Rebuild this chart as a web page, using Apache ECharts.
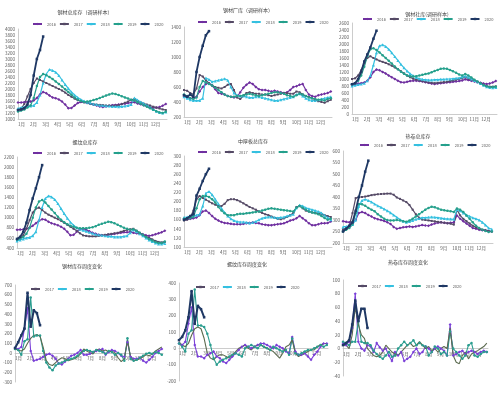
<!DOCTYPE html>
<html>
<head>
<meta charset="utf-8">
<script src="https://cdn.jsdelivr.net/npm/echarts@6/dist/echarts.min.js"></script>
<style>
    html, body { margin: 0; padding: 0; background: #fff; }
    #chart { width: 500px; height: 399px; }
</style>
</head>
<body>
<div id="chart"></div>
<script>
    // 周度数据，每年约48周
    var gcZk2016 = [1550,1550,1560,1570, 1580,1620,1700,1820, 1900,1860,1780,1720, 1690,1650,1580,1480, 1360,1370,1450,1530, 1570,1560,1540,1510, 1480,1450,1420,1400, 1420,1440,1460,1470, 1480,1500,1510,1530, 1550,1560,1520,1490, 1460,1430,1390,1370, 1380,1400,1440,1500];
    var gcZk2017 = [1300,1350,1500,1750, 2000,2200,2350,2300, 2250,2200,2150,2100, 2050,2000,1950,1880, 1800,1740,1680,1630, 1590,1560,1530,1500, 1490,1480,1470,1460, 1450,1450,1440,1450, 1460,1500,1540,1580, 1640,1660,1600,1550, 1510,1480,1450,1410, 1380,1350,1320,1300];
    var gcZk2018 = [1350,1380,1400,1420, 1430,1450,1550,1800, 2200,2500,2650,2620, 2560,2450,2300,2150, 2020,1900,1800,1720, 1650,1600,1560,1530, 1500,1480,1460,1450, 1440,1430,1420,1420, 1410,1420,1430,1450, 1480,1700,1630,1570, 1520,1460,1390,1320, 1260,1220,1200,1230];
    var gcZk2019 = [1250,1280,1320,1380, 1450,1700,2100,2400, 2500,2460,2400,2330, 2250,2170,2080,1990, 1900,1810,1720,1650, 1600,1570,1580,1600, 1630,1660,1700,1740, 1780,1820,1850,1830, 1800,1760,1720,1680, 1640,1620,1560,1510, 1460,1410,1360,1310, 1260,1220,1200,1240];
    var gcZk2020 = [1300,1320,1360,1480,1800,2450,3000,3300,3750];

    var gcCk2016 = [480,460,450,450, 470,540,600,640, 650,620,570,520, 510,500,480,470, 460,470,530,590, 630,660,640,600, 570,560,560,550, 540,550,540,530, 520,530,560,600, 610,630,640,560, 500,480,470,490, 500,510,520,540];
    var gcCk2017 = [560,550,520,500, 580,760,740,690, 650,620,600,590, 580,600,630,640, 560,460,440,480, 520,530,520,510, 510,500,500,490, 480,490,500,510, 520,520,510,510, 540,530,500,480, 470,450,430,410, 400,390,410,430];
    var gcCk2018 = [470,450,430,420, 420,420,450,720, 700,670,680,690, 700,710,690,600, 520,490,480,480, 470,460,460,470, 470,460,450,440, 430,420,420,430, 440,450,460,470, 500,510,480,450, 430,420,420,430, 440,450,460,470];
    var gcCk2019 = [500,480,450,440, 460,600,680,660, 640,620,590,560, 530,500,480,470, 470,480,480,490, 500,510,500,490, 480,490,500,510, 520,530,530,520, 510,490,480,470, 490,510,500,480, 460,450,440,430, 430,420,440,450];
    var gcCk2020 = [490,470,500,470,800,1000,1150,1290,1345];

    var gcSk2016 = [850,860,870,880, 900,950,1050,1200, 1270,1250,1200,1160, 1100,1050,1000,950, 910,900,920,940, 950,950,940,930, 910,890,870,860, 870,880,890,900, 910,920,930,940, 960,990,970,950, 930,910,890,870, 860,870,900,940];
    var gcSk2017 = [1000,1020,1100,1250, 1450,1600,1650,1600, 1560,1520,1490,1460, 1420,1380,1330,1280, 1220,1160,1100,1050, 1010,980,960,940, 920,900,890,880, 890,900,910,920, 940,960,980,1000, 1020,1050,1010,980, 950,920,880,840, 800,780,780,790];
    var gcSk2018 = [800,820,840,860, 880,950,1100,1400, 1750,1950,1980,1930, 1850,1750,1640,1530, 1420,1320,1230,1150, 1090,1040,1010,990, 980,970,970,980, 980,990,990,1000, 1000,1010,1020,1030, 1060,1080,1050,1000, 960,920,870,820, 780,760,750,760];
    var gcSk2019 = [850,880,950,1100, 1350,1650,1850,1880, 1830,1760,1680,1600, 1520,1440,1360,1280, 1210,1150,1100,1080, 1070,1080,1100,1120, 1140,1160,1190,1230, 1260,1290,1300,1290, 1260,1220,1180,1130, 1100,1140,1100,1040, 980,930,880,830, 790,770,770,780];
    var gcSk2020 = [850,880,1000,1200,1500,1700,1900,2150,2380];

    var lwZk2016 = [760,765,770,780, 800,840,890,940, 970,960,920,890, 870,850,820,780, 720,650,660,720, 770,780,760,730, 700,680,660,650, 650,660,670,680, 690,700,710,710, 720,700,690,680, 670,650,640,650, 670,690,710,740];
    var lwZk2017 = [560,590,650,780, 950,1100,1180,1200, 1150,1100,1060,1030, 1000,970,940,900, 860,820,780,740, 690,650,640,630, 630,630,640,650, 660,670,680,690, 700,720,740,760, 770,780,740,700, 660,630,600,570, 540,520,510,520];
    var lwZk2018 = [540,560,580,600, 610,640,720,950, 1200,1380,1430,1410, 1360,1280,1180,1080, 990,910,850,800, 770,750,730,710, 690,670,660,650, 640,630,630,620, 620,620,630,640, 700,760,720,680, 640,600,560,530, 500,480,480,490];
    var lwZk2019 = [570,590,620,680, 800,1000,1200,1320, 1350,1300,1230,1160, 1090,1020,960,910, 870,840,820,800, 790,790,790,800, 810,830,860,880, 900,920,910,890, 860,830,800,780, 760,770,740,700, 660,620,580,550, 520,500,500,530];
    var lwZk2020 = [580,620,720,900,1150,1380,1580,1800,2040];

    var zhbZk2016 = [160,161,162,163, 165,170,178,180, 175,168,162,158, 155,153,152,151, 150,150,150,151, 152,153,154,153, 152,150,149,148, 148,149,150,151, 152,155,158,160, 163,168,163,158, 152,148,148,150, 152,152,153,156];
    var zhbZk2017 = [158,160,165,180, 205,212,208,204, 200,196,193,190, 190,195,203,205, 205,203,200,196, 192,188,185,182, 178,175,172,170, 167,164,162,161, 163,166,170,175, 188,190,185,180, 178,176,175,174, 172,170,168,166];
    var zhbZk2018 = [165,166,168,169, 170,172,190,218, 222,215,205,195, 185,176,168,162, 158,156,155,155, 154,153,154,156, 160,163,165,166, 166,165,164,165, 166,168,170,172, 186,192,190,186, 184,182,180,178, 175,170,165,160];
    var zhbZk2019 = [162,163,164,166, 185,205,212,212, 210,205,198,188, 180,174,170,170, 170,172,173,173, 174,175,176,177, 178,180,182,184, 185,184,183,182, 181,180,179,178, 186,190,186,182, 178,176,174,172, 168,164,160,162];
    var zhbZk2020 = [160,163,168,172,213,228,245,260,272];

    var rjZk2016 = [295,292,290,287, 300,330,335,330, 322,315,308,303, 300,296,290,283, 270,262,265,268, 270,272,270,272, 275,278,276,275, 280,285,288,290, 288,286,288,290, 320,305,295,285, 275,265,262,258, 255,255,252,250];
    var rjZk2017 = [260,265,275,330, 395,400,400,402, 405,408,410,412, 413,414,415,415, 410,398,392,385, 378,365,345,325, 310,302,300,298, 296,294,292,290, 288,286,284,280, 345,320,305,295, 285,275,268,262, 258,255,252,250];
    var rjZk2018 = [270,272,275,280, 300,360,385,390, 385,378,370,362, 355,348,340,332, 322,312,302,295, 290,294,298,303, 307,310,310,312, 313,312,310,308, 306,305,304,303, 345,340,330,322, 316,310,305,300, 290,278,265,260];
    var rjZk2019 = [250,258,265,280, 330,370,368,362, 352,345,338,325, 315,305,300,298, 298,300,298,295, 292,298,305,315, 325,335,345,352, 358,355,350,345, 342,340,338,335, 350,345,335,320, 305,290,275,265, 258,252,248,250];
    var rjZk2020 = [250,262,275,290,340,400,450,510,558];

    var gcChg2017 = [50,40,60,250, 460,20,-80,-70, -60,-40,-20,-10, -30,-60,-110,-120, -90,-60,-30,-20, 0,30,-20,-20, -10,10,20,30, 40,-20,10,30, 20,0,-30,-40, 110,-40,-60,-60, -50,-80,-100,-70, -40,0,20,40];
    var gcChg2018 = [40,30,-20,120, 140,570,170,180, 180,20,-100,-150, -180,-130,-110,-100, -80,-70,-60,-50, -30,0,20,30, 20,10,30,20, 10,-10,20,10, -20,0,-20,-80, 150,-60,-80,-70, -50,-30,-10,0, -10,10,0,-20];
    var gcChg2019 = [40,30,20,40, 100,150,180,190, 170,60,-80,-120, -130,-100,-70,-50, -60,-80,-70,-60, -40,-10,40,20, 0,-10,30,40, 20,30,10,20, 0,-50,-90,-60, 130,-40,-80,-70, -60,-40,-20,-30, -10,20,40,60];
    var gcChg2020 = [50,110,180,250,620,270,440,410,285];

    var lwChg2017 = [30,20,40,150, 250,20,-50,-50, -60,-40,-30,-20, -50,-60,-80,-90, -70,-50,-30,-10, 10,20,10,0, 10,20,30,30, 20,10,0,20, 10,0,-20,-30, 70,-20,-40,-40, -30,-50,-70,-40, -20,10,30,30];
    var lwChg2018 = [30,10,-20,90, 110,360,140,140, 130,90,20,-60, -100,-80,-70,-60, -50,-40,-30,-40, -50,0,10,20, 10,0,20,10, 0,-10,10,0, -10,-20,-10,-40, 60,-30,-40,-30, -20,-10,-10,0, 10,20,10,20];
    var lwChg2019 = [40,20,10,30, 80,120,130,120, 60,-30,-60,-70, -50,-40,-40,-50, -60,-40,-20,0, 10,20,0,-10, 10,20,20,10, 0,-10,-20,-40, -60,-30,10,20, 50,-30,-50,-40, -30,-20,-10,-10, 10,20,30,30];
    var lwChg2020 = [50,70,110,190,350,150,260,240,190];

    var rjChg2017 = [8,5,10,30, 80,10,0,-3, 5,3,-5,8, 2,-3,0,-10, -18,-5,-10,-5, -18,-15,-12,-5, 0,-8,-5,3, 0,-5,0,3, 0,-3,-10,35, -10,-8,-5,-3, -8,-5,-3,-5, -8,-5,-3,-5];
    var rjChg2018 = [10,8,5,10, 10,40,10,8, 8,5,-3,-8, -12,-15,-10,-5, -12,-10,0,5, 10,5,8,12, 5,8,5,3, -10,-5,3,0, -8,-5,-10,25, 0,-5,-10,-15, -10,5,8,-10, -12,-8,-5,-5];
    var rjChg2019 = [5,5,0,20, 60,35,20,15, 0,-5,-10,-12, -10,-5,5,0, -5,-8,-10,-5, 0,5,8,3, 5,10,5,0, 3,-3,0,-5, 0,3,0,30, -10,-20,-22,-10, -5,-15,-8,-5, -3,0,3,8];
    var rjChg2020 = [5,8,12,35,70,40,58,58,30];

    var yearsA = ['2016', '2017', '2018', '2019', '2020'];
    var yearsB = ['2017', '2018', '2019', '2020'];

    var FONT = 'Noto Sans CJK SC';
    var STEP = 12.25 / 47;   // 一周约合的月数
    var XMAX = 12.35;

    var styleA = {
        '2016': {color: '#7030a0', symbol: 'diamond', size: 3, width: 1.2},
        '2017': {color: '#554a66', symbol: 'rect', size: 2, width: 1.2},
        '2018': {color: '#35c0e0', symbol: 'triangle', size: 3, width: 1.2},
        '2019': {color: '#25a08c', symbol: 'circle', size: 2.5, width: 1.2},
        '2020': {color: '#1f3864', symbol: 'rect', size: 2.5, width: 1.8}
    };
    var styleB = {
        '2017': {color: '#7a3fd8', symbol: 'diamond', size: 3, width: 1.1},
        '2018': {color: '#2a9d8f', symbol: 'circle', size: 2.5, width: 1.1},
        '2019': {color: '#5c6b50', symbol: 'none', size: 0, width: 1.1},
        '2020': {color: '#1f3864', symbol: 'rect', size: 2.5, width: 2}
    };

    var panels = [
        {title: '钢材总库存（调研样本）', t: [85, 10], lg: [32, 22], grid: [18, 29, 149, 90], y: [1000, 4000, 200],
            years: yearsA, st: styleA, data: [gcZk2016, gcZk2017, gcZk2018, gcZk2019, gcZk2020]},
        {title: '钢材厂库（调研样本）', t: [248, 8], lg: [197, 20], grid: [184, 27, 148, 90], y: [200, 1400, 200],
            years: yearsA, st: styleA, data: [gcCk2016, gcCk2017, gcCk2018, gcCk2019, gcCk2020]},
        {title: '钢材社库(调研样本)', t: [427, 12], lg: [362, 17], grid: [352, 23, 145, 91], y: [0, 2600, 200],
            years: yearsA, st: styleA, data: [gcSk2016, gcSk2017, gcSk2018, gcSk2019, gcSk2020]},
        {title: '螺纹总库存', t: [85, 140], lg: [32, 151], grid: [17, 157, 149, 91], y: [400, 2200, 200],
            years: yearsA, st: styleA, data: [lwZk2016, lwZk2017, lwZk2018, lwZk2019, lwZk2020]},
        {title: '中厚板总库存', t: [253, 139], lg: [197, 150], grid: [184, 156, 148, 91], y: [100, 300, 20],
            years: yearsA, st: styleA, data: [zhbZk2016, zhbZk2017, zhbZk2018, zhbZk2019, zhbZk2020]},
        {title: '热卷总库存', t: [418, 134], lg: [359, 143], grid: [343, 151, 150, 92], y: [200, 600, 50],
            years: yearsA, st: styleA, data: [rjZk2016, rjZk2017, rjZk2018, rjZk2019, rjZk2020]},
        {title: '钢材库存周度变化', t: [82, 264], lg: [30, 287], grid: [14, 285, 149, 97], y: [-300, 700, 100],
            years: yearsB, st: styleB, data: [gcChg2017, gcChg2018, gcChg2019, gcChg2020]},
        {title: '螺纹库存周度变化', t: [247, 262], lg: [195, 285], grid: [179, 283, 149, 98], y: [-200, 400, 100],
            years: yearsB, st: styleB, data: [lwChg2017, lwChg2018, lwChg2019, lwChg2020]},
        {title: '热卷库存周度变化', t: [408, 260], lg: [357, 284], grid: [343, 280, 145, 96], y: [-40, 100, 20],
            years: yearsB, st: styleB, data: [rjChg2017, rjChg2018, rjChg2019, rjChg2020]}
    ];

    function toPoints(arr) {
        return arr.map(function (v, i) { return [i * STEP, v]; });
    }

    var option = {animation: false, title: [], legend: [], grid: [], xAxis: [], yAxis: [], series: []};

    panels.forEach(function (p, k) {
        var h = p.grid[3];
        // 周度变化图的横轴放在 0 值处
        var zeroShift = p.y[0] < 0 ? -h * (0 - p.y[0]) / (p.y[1] - p.y[0]) : 0;

        option.title.push({
            text: p.title, left: p.t[0], top: p.t[1], textAlign: 'center', padding: 0,
            textStyle: {fontFamily: FONT, fontSize: 5, fontWeight: 'normal', color: '#404040'}
        });
        option.legend.push({
            left: p.lg[0], top: p.lg[1], padding: 0, itemWidth: 9, itemHeight: 3, itemGap: 3,
            data: p.years,
            textStyle: {fontFamily: FONT, fontSize: 4, color: '#595959'}
        });
        option.grid.push({left: p.grid[0], top: p.grid[1], width: p.grid[2], height: h});
        option.xAxis.push({
            gridIndex: k, type: 'value', min: 0, max: XMAX, interval: 1,
            position: 'bottom', offset: zeroShift,
            axisLine: {onZero: false, lineStyle: {color: '#bfbfbf', width: 0.8}},
            axisTick: {show: false},
            splitLine: {show: false},
            axisLabel: {
                fontFamily: FONT, fontSize: 4.5, color: '#595959', margin: 3, align: 'left',
                showMaxLabel: false,
                formatter: function (v) { return (Math.abs(v - Math.round(v)) < 1e-6 && v < 12) ? (Math.round(v) + 1) + '月' : ''; }
            }
        });
        option.yAxis.push({
            gridIndex: k, type: 'value', min: p.y[0], max: p.y[1], interval: p.y[2],
            axisLine: {show: true, onZero: false, lineStyle: {color: '#bfbfbf', width: 0.8}},
            axisTick: {show: false},
            splitLine: {show: false},
            axisLabel: {fontFamily: FONT, fontSize: 4.5, color: '#595959', margin: 3,
                formatter: function (v) { return String(v); }}
        });
        p.years.forEach(function (yr, j) {
            var s = p.st[yr];
            option.series.push({
                name: yr, type: 'line', xAxisIndex: k, yAxisIndex: k,
                data: toPoints(p.data[j]),
                symbol: s.symbol, symbolSize: s.size, showSymbol: s.symbol !== 'none',
                lineStyle: {color: s.color, width: s.width},
                itemStyle: {color: s.color},
                z: yr === '2020' ? 5 : 2
            });
        });
    });

    var chart = echarts.init(document.getElementById('chart'));
    chart.setOption(option);
</script>
</body>
</html>
